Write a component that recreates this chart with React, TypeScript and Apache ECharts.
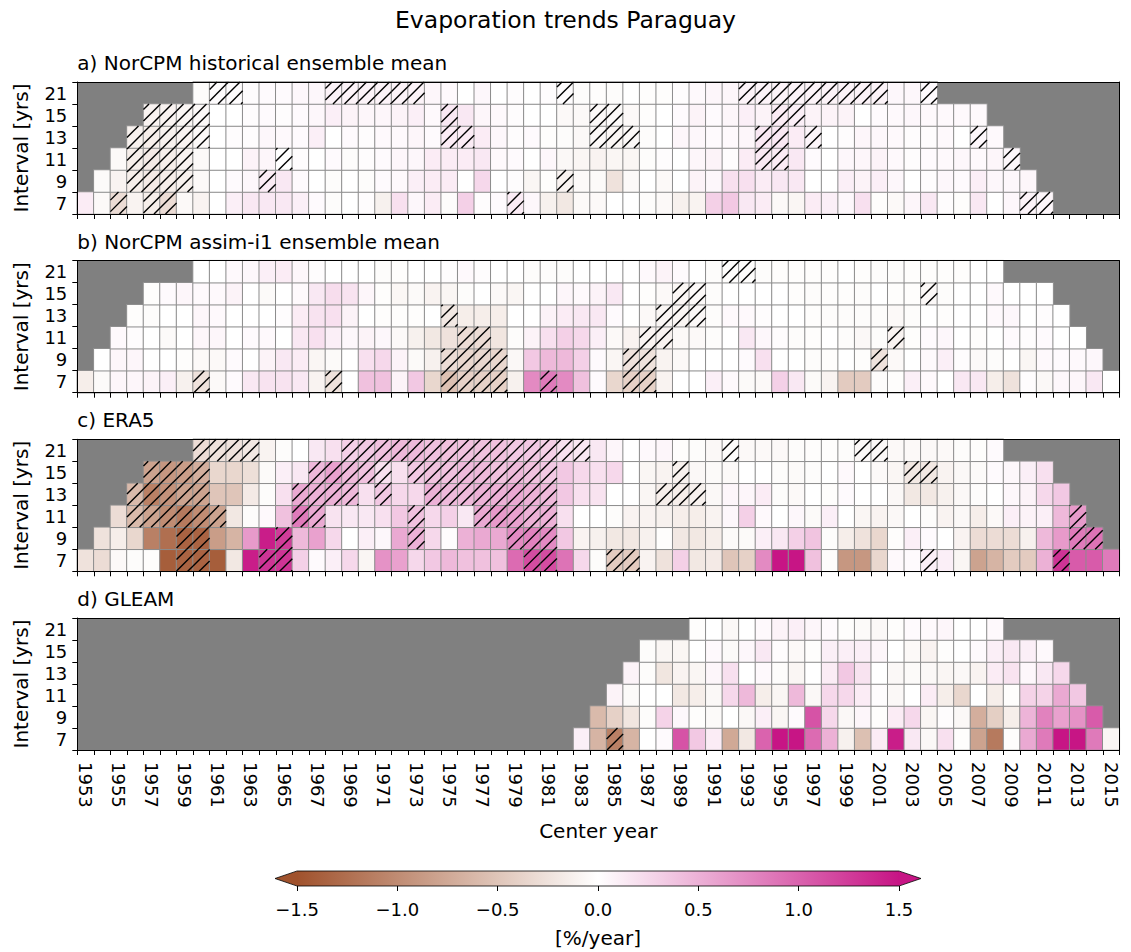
import React, { useEffect, useRef } from 'react';
import * as echarts from 'echarts';

// ---------- categories ----------
const YEARS = [
  1953, 1954, 1955, 1956, 1957, 1958, 1959, 1960, 1961, 1962, 1963, 1964, 1965, 1966, 1967, 1968,
  1969, 1970, 1971, 1972, 1973, 1974, 1975, 1976, 1977, 1978, 1979, 1980, 1981, 1982, 1983, 1984,
  1985, 1986, 1987, 1988, 1989, 1990, 1991, 1992, 1993, 1994, 1995, 1996, 1997, 1998, 1999, 2000,
  2001, 2002, 2003, 2004, 2005, 2006, 2007, 2008, 2009, 2010, 2011, 2012, 2013, 2014, 2015,
];
const INTERVALS = ['7', '9', '11', '13', '15', '21'];
const PANEL_TITLES = [
  'a) NorCPM historical ensemble mean',
  'b) NorCPM assim-i1 ensemble mean',
  'c) ERA5',
  'd) GLEAM',
];
const CB_TICKS = [-1.5, -1.0, -0.5, 0.0, 0.5, 1.0, 1.5];
const CMAP = ['#a0522d', '#ffffff', '#c71585'];

// ---------- a) NorCPM historical (first center year per interval row) ----------
const HIST_START = [1953, 1954, 1955, 1956, 1957, 1960];
const HIST_7 = [0.12, -0.05, -0.3, -0.1, -0.15, -0.3, -0.05, -0.1, 0, 0.1, 0.15, 0.15, 0.15, 0.1, 0.03, -0.03, 0, 0.02, -0.12, 0.2, 0.05, 0.12, -0.03, 0.3, 0.02, 0.03, 0.12, 0.05, -0.12, -0.2, -0.05, -0.05, 0, 0, -0.03, -0.05, -0.12, -0.1, 0.3, 0.35, 0.15, 0.12, -0.05, -0.08, 0.12, 0.1, 0.05, 0.2, -0.02, -0.05, 0.06, 0.15, 0.02, -0.02, 0.15, 0, 0.05, 0.08, 0.06];
const HIST_9 = [-0.04, -0.1, -0.15, -0.18, -0.15, -0.12, -0.05, 0, 0.03, 0.05, 0.12, 0.15, 0.03, 0, -0.03, 0, -0.03, 0.03, 0.04, 0.1, 0.12, 0.12, 0, 0.25, 0, 0.02, -0.08, -0.02, -0.1, -0.05, -0.04, -0.25, -0.05, 0, -0.05, 0, 0.08, 0.05, 0.2, 0.2, 0.12, 0.15, 0.15, 0, 0, 0.1, 0.08, 0.1, 0.05, 0, 0.02, 0.05, 0.03, 0.1, 0.05, 0.05, 0.06];
const HIST_11 = [-0.05, -0.15, -0.18, -0.15, -0.1, -0.05, 0, 0, 0.08, 0.06, 0, 0.02, 0, 0.03, -0.03, 0.02, 0.03, 0.06, 0.05, 0.12, 0.12, 0.12, 0.15, 0.04, 0.03, 0, 0.05, -0.06, -0.08, -0.1, -0.08, -0.08, -0.03, 0.02, 0, 0.06, 0.08, 0.02, 0.12, 0.15, 0.12, 0.15, 0.03, 0, 0.05, 0.06, 0.08, 0.04, 0.02, 0.03, 0.04, 0.05, 0.04, 0.06, 0.05];
const HIST_13 = [-0.12, -0.15, -0.12, -0.1, -0.05, 0, 0.02, 0.02, 0.05, 0.04, 0.03, 0.1, 0, 0.03, 0.02, 0.04, 0.04, 0.06, 0.03, 0.12, 0.12, 0.12, 0.05, 0.02, 0.03, -0.02, -0.03, -0.06, -0.06, -0.08, -0.06, -0.03, 0, 0.06, 0.05, 0.03, 0.04, 0.06, 0.15, 0.15, 0.12, 0.06, 0, 0.02, 0.06, 0.05, 0.04, 0.02, 0.02, 0.04, 0, 0.05, 0.04];
const HIST_15 = [-0.1, -0.1, -0.08, -0.05, 0, 0, 0.02, 0.03, 0.02, 0.03, 0.05, 0.1, 0.08, 0.06, 0.06, 0.08, 0.1, 0.04, 0.15, 0.15, 0.06, 0.04, 0.02, 0, 0, -0.05, -0.05, -0.05, -0.04, -0.05, -0.02, 0, 0.03, 0.08, 0.03, 0.06, 0.1, 0.08, 0.12, 0.1, 0.08, 0.08, 0.08, 0, 0.03, 0.04, 0.05, 0.04, 0.04, 0.04, 0.04];
const HIST_21 = [-0.03, 0.02, 0.02, 0.02, 0.03, 0.03, 0.05, 0.05, 0.08, 0.08, 0.08, 0.08, 0.08, 0.08, 0.06, 0.04, 0, 0.05, 0, 0.02, 0, 0.02, 0.02, -0.03, -0.02, -0.03, 0, -0.02, -0.02, 0.02, 0.04, 0.06, 0.06, 0.08, 0.08, 0.08, 0.08, 0.08, 0.08, 0.08, 0.08, 0.08, 0.05, 0.05, 0.03];
const HIST_SIG = [
  [1955, 1957, 1958, 1979, 2010, 2011],
  [1956, 1957, 1958, 1959, 1964, 1982],
  [1956, 1957, 1958, 1959, 1965, 1994, 1995, 2009],
  [1956, 1957, 1958, 1959, 1960, 1975, 1976, 1984, 1985, 1986, 1994, 1995, 1997, 2007],
  [1957, 1958, 1959, 1960, 1975, 1984, 1985, 1995, 1996],
  [1961, 1962, 1968, 1969, 1970, 1971, 1972, 1973, 1982, 1993, 1994, 1995, 1996, 1997, 1998, 1999, 2000, 2001, 2004],
];

// ---------- b) NorCPM assim-i1 ----------
const ASSIM_START = [1953, 1954, 1955, 1956, 1957, 1960];
const ASSIM_7 = [-0.15, -0.04, 0.06, 0.06, 0.08, 0.1, -0.12, -0.25, -0.05, 0.03, 0.15, 0.18, 0.18, 0.15, -0.1, -0.25, 0, 0.4, 0.4, 0.08, 0.35, -0.35, -0.55, -0.4, -0.4, -0.4, -0.12, 0.75, 0.85, 0.75, 0.4, 0.03, -0.35, -0.4, -0.4, -0.1, 0, 0, 0.1, 0.04, -0.04, -0.05, 0.3, 0.15, -0.04, -0.1, -0.45, -0.45, -0.03, -0.02, 0.1, 0.04, 0, 0.15, 0.15, -0.15, -0.25, 0.02, -0.06, 0.05, 0.06, 0.15, 0];
const ASSIM_9 = [0, 0.06, 0.06, 0, 0, -0.02, -0.05, -0.05, 0.03, 0, 0.08, 0.15, 0.12, -0.08, -0.04, 0, 0.2, 0.25, 0.08, -0.04, -0.12, -0.3, -0.35, -0.35, -0.35, -0.06, 0.35, 0.45, 0.45, 0.3, 0.03, -0.08, -0.25, -0.25, -0.1, -0.05, 0, 0, 0, 0.03, 0.2, 0, 0, -0.03, -0.02, 0, -0.02, -0.25, -0.05, 0, 0.04, 0.1, 0.02, -0.05, -0.03, 0, -0.08, 0.04, 0.03, 0.04, 0.05];
const ASSIM_11 = [0.04, 0.02, 0, -0.04, 0, 0.06, 0.06, 0, 0.03, 0.04, 0, 0.15, 0.2, 0.1, 0.05, 0.08, 0.05, -0.05, -0.12, -0.2, -0.25, -0.3, -0.3, -0.22, -0.03, 0.08, 0.2, 0.3, 0.25, 0.1, -0.05, -0.1, -0.1, -0.1, -0.05, -0.05, -0.03, 0, 0.15, 0.05, 0.02, -0.03, -0.02, 0, -0.03, -0.06, -0.03, -0.1, -0.02, 0.03, 0.05, 0, -0.02, 0, 0.03, 0.02, 0.03, 0, 0];
const ASSIM_13 = [-0.02, -0.03, 0, 0, 0.06, 0.04, 0, 0, 0, 0.02, 0.12, 0.18, 0.2, 0.08, 0, -0.02, -0.02, -0.02, 0, -0.2, -0.15, -0.15, -0.15, 0, 0, 0.08, 0.12, 0.15, 0.15, 0.03, 0, -0.05, -0.08, -0.08, -0.06, -0.03, 0.04, 0.04, 0.02, 0, 0, -0.02, -0.03, -0.03, -0.03, -0.03, -0.05, -0.03, 0, -0.02, 0, 0, 0.04, 0.05, 0, 0.02, 0];
const ASSIM_15 = [-0.02, 0.03, 0.06, 0.04, 0.04, 0.08, 0, -0.04, 0, 0.04, 0.15, 0.22, 0.18, 0.06, -0.02, -0.07, -0.04, -0.1, -0.08, -0.03, 0, -0.05, -0.08, 0, 0, 0.06, 0.04, 0.08, 0.15, 0, -0.02, -0.05, -0.07, -0.05, -0.03, 0, 0, 0, 0, -0.02, -0.03, -0.02, -0.02, -0.03, 0, -0.02, -0.02, -0.06, -0.03, 0, 0, 0.04, 0, 0, 0];
const ASSIM_21 = [0, 0, 0.04, 0.05, 0.1, 0.12, 0.06, 0.02, 0, 0, 0, -0.03, -0.02, 0, 0, 0.02, 0.04, 0.02, 0, 0, -0.03, -0.03, -0.03, 0, 0, 0, 0, 0.04, 0.08, 0.03, 0, -0.03, -0.02, -0.02, -0.03, -0.02, -0.02, -0.02, -0.02, 0, -0.02, -0.03, -0.03, -0.02, -0.02, -0.02, -0.02, 0, 0];
const ASSIM_SIG = [
  [1960, 1968, 1975, 1976, 1977, 1978, 1981, 1986, 1987],
  [1975, 1976, 1977, 1978, 1986, 1987, 2001],
  [1976, 1977, 1987, 1988, 2002],
  [1975, 1988, 1989, 1990],
  [1989, 1990, 2004],
  [1992, 1993],
];

// ---------- c) ERA5 ----------
const ERA5_START = [1953, 1954, 1955, 1956, 1957, 1960];
const ERA5_7 = [-0.25, -0.3, -0.05, -0.03, -0.02, -1.4, -1.35, -1.35, -1.4, -0.2, 1.45, 1.3, 1.3, 0.3, 0.03, 0.1, 0.25, -0.08, 0.7, 0.6, 0.25, 0.35, 0.45, 0.4, 0.4, 0.4, 0.95, 1.15, 1.15, 0.9, 0.25, -0.03, -0.45, -0.45, -0.1, -0.25, 0.3, -0.2, -0.18, -0.5, -0.4, 0.75, 1.5, 1.5, 0.4, -0.03, -0.9, -0.9, -0.35, 0.04, 0.03, 0.1, 0.1, -0.08, -0.8, -0.65, -0.45, -0.45, 0.5, 1.3, 1.05, 1.05, 0.85];
const ERA5_9 = [-0.25, -0.15, -0.35, -1.1, -1.25, -1.35, -1.35, -0.85, -0.65, 0.65, 1.45, 1.25, 0.45, 0.6, 0.25, 0, 0.1, 0.05, 0.55, 0.5, 0.25, 0.02, 0.5, 0.55, 0.55, 0.75, 0.8, 0.75, 0.35, -0.1, -0.12, -0.2, -0.2, -0.12, -0.02, -0.2, -0.2, -0.15, -0.04, -0.04, 0.1, 0.15, 0.3, 0.38, -0.03, -0.15, -0.25, -0.35, -0.02, 0.1, 0.03, 0, -0.1, -0.3, -0.3, -0.3, -0.12, 0.45, 0.65, 0.85, 0.9];
const ERA5_11 = [-0.3, -0.6, -0.8, -1.0, -1.15, -1.0, -0.8, -0.2, -0.03, 0.04, 0.4, 0.85, 0.55, 0.18, 0.15, 0.15, 0.2, 0.35, 0.4, 0.25, 0.3, 0.15, 0.55, 0.65, 0.6, 0.5, 0.5, 0.2, 0, 0, -0.03, -0.1, -0.1, -0.12, -0.15, -0.15, -0.1, 0.05, 0.3, 0.04, 0, 0.05, -0.04, 0.1, 0, -0.08, -0.1, -0.06, 0, -0.03, -0.1, -0.06, -0.15, -0.05, 0.1, 0.08, 0.1, 0.45, 0.65];
const ERA5_13 = [-0.6, -1.1, -0.95, -0.8, -0.8, -0.5, -0.5, -0.18, -0.03, 0.2, 0.55, 0.5, 0.5, 0.45, 0.2, 0.35, 0.25, 0.25, 0.5, 0.45, 0.45, 0.5, 0.5, 0.55, 0.5, 0.45, 0.35, 0.2, 0.18, 0, 0, -0.08, -0.15, -0.15, -0.12, -0.06, 0.06, 0.06, 0.12, -0.03, -0.05, 0, -0.02, 0.03, 0, 0, -0.06, -0.2, -0.2, -0.12, -0.06, -0.03, 0, 0.05, 0.08, 0.25, 0.35];
const ERA5_15 = [-0.8, -0.9, -0.85, -0.7, -0.35, -0.35, -0.28, -0.04, 0.1, 0.15, 0.45, 0.6, 0.45, 0.4, 0.2, 0.2, 0.35, 0.4, 0.4, 0.45, 0.45, 0.4, 0.45, 0.4, 0.35, 0.35, 0.25, 0.2, 0.25, 0, -0.08, -0.1, -0.12, -0.06, -0.04, -0.05, 0, 0, -0.03, -0.04, -0.03, 0, 0.04, 0, -0.05, -0.08, -0.2, -0.2, -0.1, -0.06, -0.04, 0.03, 0.05, 0.1, 0.2];
const ERA5_21 = [-0.3, -0.25, -0.25, -0.2, -0.1, -0.03, 0, 0.15, 0.2, 0.3, 0.35, 0.4, 0.45, 0.45, 0.4, 0.4, 0.4, 0.4, 0.4, 0.35, 0.35, 0.3, 0.2, 0.15, 0.15, 0.06, 0, 0.04, 0.06, -0.02, -0.03, -0.06, -0.03, -0.05, -0.05, -0.05, -0.03, -0.02, -0.02, -0.03, -0.06, -0.06, -0.05, -0.05, -0.06, -0.05, -0.03, -0.02, 0.03];
const ERA5_SIG = [
  [1959, 1960, 1964, 1965, 1980, 1981, 1985, 1986, 2004, 2012],
  [1959, 1960, 1965, 1973, 1979, 1980, 1981, 2013, 2014],
  [1956, 1957, 1958, 1959, 1960, 1961, 1966, 1967, 1973, 1977, 1978, 1979, 1980, 1981, 2013],
  [1956, 1957, 1958, 1959, 1960, 1966, 1967, 1968, 1969, 1971, 1974, 1975, 1976, 1977, 1978, 1979, 1980, 1981, 1988, 1989, 1990],
  [1957, 1958, 1959, 1960, 1967, 1968, 1969, 1970, 1971, 1973, 1974, 1975, 1976, 1977, 1978, 1979, 1980, 1981, 1989, 2003, 2004],
  [1960, 1961, 1962, 1963, 1969, 1970, 1971, 1972, 1973, 1974, 1975, 1976, 1977, 1978, 1979, 1980, 1981, 1982, 1983, 1992, 2000, 2001],
];

// ---------- d) GLEAM ----------
const GLEAM_START = [1983, 1984, 1985, 1986, 1987, 1990];
const GLEAM_7 = [0.1, -0.65, -1.1, -0.65, 0, 0.03, 1.1, 0.35, 0.12, -0.75, -0.2, 1.0, 1.5, 1.5, 0.95, 0.5, -0.12, -0.55, 0.12, 1.45, 0.15, -0.06, 0.2, -0.02, -0.8, -1.15, -0.02, 0.55, 0.85, 1.5, 1.5, 0.85, -0.08];
const GLEAM_9 = [-0.6, -0.4, -0.22, -0.03, 0.28, 0.05, -0.02, -0.04, 0, -0.06, 0.1, -0.08, 0.03, 1.1, 0.25, -0.06, 0.06, -0.02, 0.12, 0.25, -0.08, 0.02, -0.06, -0.7, -0.42, -0.15, 0.48, 0.8, 0.6, 0.7, 1.05];
const GLEAM_11 = [0.08, -0.04, 0, 0, -0.2, -0.15, -0.06, 0.25, 0.45, -0.15, -0.08, 0.45, -0.06, 0.25, 0.25, 0.12, 0.02, -0.06, 0, 0.12, -0.15, -0.35, 0, -0.15, -0.02, 0.28, 0.28, 0.55, 0.35];
const GLEAM_13 = [0.08, -0.03, -0.22, -0.1, -0.08, 0.06, 0.2, 0, 0.04, -0.03, -0.08, 0, 0.12, 0.35, 0.18, 0, -0.06, -0.04, -0.06, -0.08, -0.06, -0.1, 0.12, 0.18, 0.05, 0.15, 0.25];
const GLEAM_15 = [-0.03, -0.08, -0.08, 0, 0.04, -0.04, 0.05, 0.15, 0.02, -0.05, -0.02, 0.1, 0.1, 0.1, 0.06, 0, -0.05, -0.1, -0.02, 0, 0.03, 0.1, 0.15, 0.1, 0.04];
const GLEAM_21 = [-0.02, 0, -0.06, 0, 0.04, 0.08, 0.1, 0.06, 0.03, -0.02, -0.04, -0.06, -0.02, 0.03, 0.04, 0.06, 0, 0, 0.04];
const GLEAM_SIG = [[1985], [], [], [], [], []];

// ---------- layout ----------
const FONT = 'DejaVu Sans';
const GRID_LEFT = 77.3;
const GRID_W = 1042;
const GRID_H = 132;
const GRID_TOPS = [82, 260.7, 439.3, 618];
const HATCH_STEP = 11.5;

function buildCells(starts: number[], rows: number[][]) {
  const out: number[][] = [];
  rows.forEach((vals, r) => {
    vals.forEach((v, i) => {
      out.push([YEARS.indexOf(starts[r] + i), r, v]);
    });
  });
  return out;
}

function buildSig(rows: number[][]) {
  const out: number[][] = [];
  rows.forEach((yrs, r) => yrs.forEach((y) => out.push([YEARS.indexOf(y), r])));
  return out;
}

const PANELS = [
  { cells: buildCells(HIST_START, [HIST_7, HIST_9, HIST_11, HIST_13, HIST_15, HIST_21]), sig: buildSig(HIST_SIG) },
  { cells: buildCells(ASSIM_START, [ASSIM_7, ASSIM_9, ASSIM_11, ASSIM_13, ASSIM_15, ASSIM_21]), sig: buildSig(ASSIM_SIG) },
  { cells: buildCells(ERA5_START, [ERA5_7, ERA5_9, ERA5_11, ERA5_13, ERA5_15, ERA5_21]), sig: buildSig(ERA5_SIG) },
  { cells: buildCells(GLEAM_START, [GLEAM_7, GLEAM_9, GLEAM_11, GLEAM_13, GLEAM_15, GLEAM_21]), sig: buildSig(GLEAM_SIG) },
];

function hatchRender(params: any, api: any) {
  const c = api.coord([api.value(0), api.value(1)]);
  const s = api.size([1, 1]);
  const x0 = c[0] - s[0] / 2;
  const x1 = c[0] + s[0] / 2;
  const y0 = c[1] - s[1] / 2;
  const y1 = c[1] + s[1] / 2;
  const children: any[] = [];
  const kStart = Math.ceil((x0 + y0) / HATCH_STEP);
  const kEnd = Math.floor((x1 + y1) / HATCH_STEP);
  for (let k = kStart; k <= kEnd; k++) {
    const cc = k * HATCH_STEP;
    const xa = Math.max(x0, cc - y1);
    const xb = Math.min(x1, cc - y0);
    if (xb - xa > 0.3) {
      children.push({
        type: 'line',
        shape: { x1: xa, y1: cc - xa, x2: xb, y2: cc - xb },
        style: { stroke: '#000', lineWidth: 1.4 },
      });
    }
  }
  return { type: 'group', children };
}

function colorbarRender(params: any, api: any) {
  const bl = api.coord([CB_TICKS[0], 0]);
  const tr = api.coord([CB_TICKS[CB_TICKS.length - 1], 1]);
  const x0 = bl[0];
  const y1 = bl[1];
  const x1 = tr[0];
  const y0 = tr[1];
  const ym = (y0 + y1) / 2;
  const ext = 22;
  const grad = new echarts.graphic.LinearGradient(
    0, 0, 1, 0,
    CMAP.map((col, i) => ({ offset: i / (CMAP.length - 1), color: col }))
  );
  return {
    type: 'group',
    children: [
      { type: 'rect', shape: { x: x0, y: y0, width: x1 - x0, height: y1 - y0 }, style: { fill: grad } },
      { type: 'polygon', shape: { points: [[x0 + 0.5, y0], [x0 - ext, ym], [x0 + 0.5, y1]] }, style: { fill: CMAP[0] } },
      { type: 'polygon', shape: { points: [[x1 - 0.5, y0], [x1 + ext, ym], [x1 - 0.5, y1]] }, style: { fill: CMAP[CMAP.length - 1] } },
      {
        type: 'polygon',
        shape: { points: [[x0, y0], [x1, y0], [x1 + ext, ym], [x1, y1], [x0, y1], [x0 - ext, ym]] },
        style: { fill: 'none', stroke: '#000', lineWidth: 0.8 },
      },
    ],
  };
}

function buildOption() {
  const grids: any[] = GRID_TOPS.map((top) => ({
    left: GRID_LEFT,
    top,
    width: GRID_W,
    height: GRID_H,
    show: true,
    backgroundColor: '#808080',
    borderWidth: 0,
    containLabel: false,
  }));
  grids.push({ left: 297, top: 871, width: 602, height: 15, show: false, containLabel: false });

  const xAxes: any[] = [];
  const yAxes: any[] = [];
  GRID_TOPS.forEach((_, i) => {
    const last = i === GRID_TOPS.length - 1;
    xAxes.push({
      type: 'category',
      gridIndex: i,
      data: YEARS.map(String),
      position: 'bottom',
      z: 10,
      axisLine: { show: true, lineStyle: { color: '#000', width: 1 } },
      axisTick: { show: true, interval: 0, length: 5, lineStyle: { color: '#000', width: 1 } },
      axisLabel: last
        ? { show: true, interval: 1, rotate: -90, margin: 12, fontSize: 18, color: '#000', fontFamily: FONT }
        : { show: false },
      splitLine: { show: false },
      name: last ? 'Center year' : '',
      nameLocation: 'middle',
      nameGap: 71,
      nameTextStyle: { fontSize: 20, color: '#000', fontFamily: FONT },
    });
    xAxes.push({
      type: 'category',
      gridIndex: i,
      data: YEARS.map(String),
      position: 'top',
      z: 10,
      axisLine: { show: true, lineStyle: { color: '#000', width: 1 } },
      axisTick: { show: false },
      axisLabel: { show: false },
      splitLine: { show: false },
    });
    yAxes.push({
      type: 'category',
      gridIndex: i,
      data: INTERVALS,
      position: 'left',
      z: 10,
      axisLine: { show: true, lineStyle: { color: '#000', width: 1 } },
      axisTick: { show: true, interval: 0, length: 5, lineStyle: { color: '#000', width: 1 } },
      axisLabel: { interval: 0, fontSize: 18, color: '#000', margin: 10, fontFamily: FONT, lineHeight: 18 },
      splitLine: { show: false },
      name: 'Interval [yrs]',
      nameLocation: 'middle',
      nameRotate: 90,
      nameGap: 46,
      nameTextStyle: { fontSize: 20, color: '#000', fontFamily: FONT },
    });
    yAxes.push({
      type: 'category',
      gridIndex: i,
      data: INTERVALS,
      position: 'right',
      z: 10,
      axisLine: { show: true, lineStyle: { color: '#000', width: 1 } },
      axisTick: { show: false },
      axisLabel: { show: false },
      splitLine: { show: false },
    });
  });
  xAxes.push({
    type: 'value',
    gridIndex: 4,
    min: CB_TICKS[0],
    max: CB_TICKS[CB_TICKS.length - 1],
    interval: 0.5,
    position: 'bottom',
    axisLine: { show: false },
    axisTick: { show: true, length: 5, lineStyle: { color: '#000', width: 1 } },
    axisLabel: {
      fontSize: 18,
      color: '#000',
      margin: 14,
      fontFamily: FONT,
      formatter: (v: number) => (v < 0 ? '\u2212' : '') + Math.abs(v).toFixed(1),
    },
    splitLine: { show: false },
    name: '[%/year]',
    nameLocation: 'middle',
    nameGap: 42,
    nameTextStyle: { fontSize: 20, color: '#000', fontFamily: FONT },
  });
  yAxes.push({ type: 'value', gridIndex: 4, min: 0, max: 1, show: false });

  const series: any[] = [];
  PANELS.forEach((p, i) => {
    series.push({
      type: 'heatmap',
      xAxisIndex: i * 2,
      yAxisIndex: i * 2,
      data: p.cells,
      itemStyle: { borderColor: '#8c8c8c', borderWidth: 1 },
      emphasis: { disabled: true },
      z: 2,
    });
  });
  PANELS.forEach((p, i) => {
    series.push({
      type: 'custom',
      xAxisIndex: i * 2,
      yAxisIndex: i * 2,
      data: p.sig,
      renderItem: hatchRender,
      silent: true,
      z: 3,
    });
  });
  series.push({
    type: 'custom',
    xAxisIndex: 8,
    yAxisIndex: 8,
    data: [[0, 0]],
    renderItem: colorbarRender,
    silent: true,
  });

  return {
    animation: false,
    backgroundColor: '#ffffff',
    textStyle: { fontFamily: FONT },
    title: [
      {
        text: 'Evaporation trends Paraguay',
        left: 'center',
        top: 8,
        padding: 0,
        textStyle: { fontSize: 23.5, fontWeight: 'normal', color: '#000', fontFamily: FONT },
      },
      ...PANEL_TITLES.map((t, i) => ({
        text: t,
        left: GRID_LEFT,
        top: GRID_TOPS[i] - 29,
        padding: 0,
        textStyle: { fontSize: 20, fontWeight: 'normal', color: '#000', fontFamily: FONT },
      })),
    ],
    grid: grids,
    xAxis: xAxes,
    yAxis: yAxes,
    visualMap: {
      type: 'continuous',
      show: false,
      min: CB_TICKS[0],
      max: CB_TICKS[CB_TICKS.length - 1],
      dimension: 2,
      seriesIndex: [0, 1, 2, 3],
      inRange: { color: CMAP },
    },
    series,
  };
}

export default function App() {
  const ref = useRef<HTMLDivElement>(null);
  useEffect(() => {
    if (!ref.current) return;
    const chart = echarts.init(ref.current, undefined, { renderer: 'svg' });
    chart.setOption(buildOption() as any);
    return () => chart.dispose();
  }, []);
  return (
    <div
      ref={ref}
      style={{ position: 'fixed', left: 0, top: 0, width: 1131, height: 952, background: '#fff' }}
    />
  );
}
